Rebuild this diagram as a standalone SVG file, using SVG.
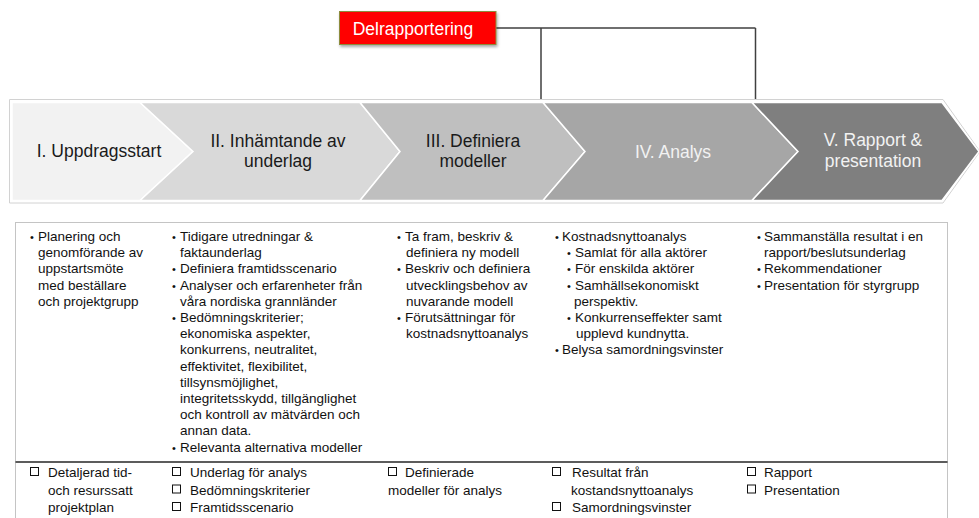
<svg xmlns="http://www.w3.org/2000/svg" width="979" height="518" viewBox="0 0 979 518">
  <defs>
    <style>
      text { font-family: "Liberation Sans", Arial, sans-serif; }
      .ph { font-size: 17.5px; text-anchor: middle; }
      .dark { fill: #1a1a1a; }
      .light { fill: #f2f2f2; }
      .chev { stroke: #ffffff; stroke-width: 1.5; }
      .b { font-size: 13.5px; fill: #111111; }
      .dot { font-size: 11px; fill: #111111; }
      .conn { stroke: #404040; stroke-width: 1.5; fill: none; }
      .chk { fill: none; stroke: #111111; stroke-width: 1; }
    </style>
    <filter id="shadow" x="-10%" y="-20%" width="120%" height="160%">
      <feDropShadow dx="1" dy="2" stdDeviation="1.5" flood-color="#000000" flood-opacity="0.35"/>
    </filter>
    <rect id="box" width="8" height="8" class="chk"/>
  </defs>

  <rect width="979" height="518" fill="#ffffff"/>

  <!-- Connectors -->
  <g id="connectors">
    <path class="conn" d="M496,28 H755.5 M541,28 V101 M755.5,28 V101"/>
  </g>

  <!-- Delrapportering -->
  <g id="node-delrapportering">
    <rect x="339.5" y="11.5" width="156.5" height="33" fill="#ff0000" stroke="#8c8c3c" stroke-width="1" filter="url(#shadow)"/>
    <text x="413" y="35" font-size="17.5" fill="#ffffff" text-anchor="middle">Delrapportering</text>
  </g>

  <!-- Phase band frame -->
  <g id="phase-band">
    <polygon points="9.5,99.5 943,99.5 980,151.5 943,203 9.5,203" fill="#ffffff" stroke="#d2d2d2" stroke-width="1"/>
  </g>

  <g id="phase-1">
    <polygon class="chev" fill="#f2f2f2" points="12,102.5 140,102.5 193,151.5 140,200.5 12,200.5"/>
    <text class="ph dark" x="99" y="157">I. Uppdragsstart</text>
  </g>
  <g id="phase-2">
    <polygon class="chev" fill="#d9d9d9" points="140,102.5 360,102.5 400,151.5 360,200.5 140,200.5 193,151.5"/>
    <text class="ph dark" x="278" y="147">II. Inhämtande av</text>
    <text class="ph dark" x="278" y="167">underlag</text>
  </g>
  <g id="phase-3">
    <polygon class="chev" fill="#bfbfbf" points="360,102.5 543,102.5 585,151.5 543,200.5 360,200.5 400,151.5"/>
    <text class="ph dark" x="473" y="147">III. Definiera</text>
    <text class="ph dark" x="473" y="167">modeller</text>
  </g>
  <g id="phase-4">
    <polygon class="chev" fill="#a6a6a6" points="543,102.5 752,102.5 798,151.5 752,200.5 543,200.5 585,151.5"/>
    <text class="ph light" x="673" y="158">IV. Analys</text>
  </g>
  <g id="phase-5">
    <polygon class="chev" fill="#7f7f7f" points="752,102.5 942,102.5 979,151.5 942,200.5 752,200.5 798,151.5"/>
    <text class="ph light" x="873" y="146">V. Rapport &amp;</text>
    <text class="ph light" x="873" y="167">presentation</text>
  </g>

  <!-- Content box -->
  <g id="content-box">
    <rect x="15.5" y="222.5" width="932" height="310" fill="#ffffff" stroke="#c4c4c4" stroke-width="1"/>
    <line x1="15.5" y1="462" x2="947.5" y2="462" stroke="#262626" stroke-width="1.5"/>
  </g>

  <!-- Column 1 activities -->
  <g id="activities-1">
    <text class="dot" x="30" y="241">•</text>
    <text class="b" x="38" y="241">Planering och</text>
    <text class="b" x="38" y="257.2">genomförande av</text>
    <text class="b" x="38" y="273.4">uppstartsmöte</text>
    <text class="b" x="38" y="289.6">med beställare</text>
    <text class="b" x="38" y="305.8">och projektgrupp</text>
  </g>

  <!-- Column 2 activities -->
  <g id="activities-2">
    <text class="dot" x="172" y="241">•</text>
    <text class="b" x="180" y="241">Tidigare utredningar &amp;</text>
    <text class="b" x="180" y="257.2">faktaunderlag</text>
    <text class="dot" x="172" y="273.4">•</text>
    <text class="b" x="180" y="273.4">Definiera framtidsscenario</text>
    <text class="dot" x="172" y="289.6">•</text>
    <text class="b" x="180" y="289.6">Analyser och erfarenheter från</text>
    <text class="b" x="180" y="305.8">våra nordiska grannländer</text>
    <text class="dot" x="172" y="322">•</text>
    <text class="b" x="180" y="322">Bedömningskriterier;</text>
    <text class="b" x="180" y="338.2">ekonomiska aspekter,</text>
    <text class="b" x="180" y="354.4">konkurrens, neutralitet,</text>
    <text class="b" x="180" y="370.6">effektivitet, flexibilitet,</text>
    <text class="b" x="180" y="386.8">tillsynsmöjlighet,</text>
    <text class="b" x="180" y="403">integritetsskydd, tillgänglighet</text>
    <text class="b" x="180" y="419.2">och kontroll av mätvärden och</text>
    <text class="b" x="180" y="435.4">annan data.</text>
    <text class="dot" x="172" y="451.6">•</text>
    <text class="b" x="180" y="451.6">Relevanta alternativa modeller</text>
  </g>

  <!-- Column 3 activities -->
  <g id="activities-3">
    <text class="dot" x="397" y="241">•</text>
    <text class="b" x="405" y="241">Ta fram, beskriv &amp;</text>
    <text class="b" x="406" y="257.2">definiera ny modell</text>
    <text class="dot" x="397" y="273.4">•</text>
    <text class="b" x="405" y="273.4">Beskriv och definiera</text>
    <text class="b" x="406" y="289.6">utvecklingsbehov av</text>
    <text class="b" x="406" y="305.8">nuvarande modell</text>
    <text class="dot" x="397" y="322">•</text>
    <text class="b" x="405" y="322">Förutsättningar för</text>
    <text class="b" x="406" y="338.2">kostnadsnyttoanalys</text>
  </g>

  <!-- Column 4 activities -->
  <g id="activities-4">
    <text class="dot" x="555" y="241">•</text>
    <text class="b" x="562" y="241">Kostnadsnyttoanalys</text>
    <text class="dot" x="567" y="257.2">•</text>
    <text class="b" x="575" y="257.2">Samlat för alla aktörer</text>
    <text class="dot" x="567" y="273.4">•</text>
    <text class="b" x="575" y="273.4">För enskilda aktörer</text>
    <text class="dot" x="567" y="289.6">•</text>
    <text class="b" x="575" y="289.6">Samhällsekonomiskt</text>
    <text class="b" x="574" y="305.8">perspektiv.</text>
    <text class="dot" x="567" y="322">•</text>
    <text class="b" x="575" y="322">Konkurrenseffekter samt</text>
    <text class="b" x="576" y="338.2">upplevd kundnytta.</text>
    <text class="dot" x="555" y="354.4">•</text>
    <text class="b" x="562" y="354.4">Belysa samordningsvinster</text>
  </g>

  <!-- Column 5 activities -->
  <g id="activities-5">
    <text class="dot" x="757" y="241">•</text>
    <text class="b" x="764" y="241">Sammanställa resultat i en</text>
    <text class="b" x="764" y="257.2">rapport/beslutsunderlag</text>
    <text class="dot" x="757" y="273.4">•</text>
    <text class="b" x="764" y="273.4">Rekommendationer</text>
    <text class="dot" x="757" y="289.6">•</text>
    <text class="b" x="764" y="289.6">Presentation för styrgrupp</text>
  </g>

  <!-- Deliverables -->
  <g id="deliverables-1">
    <use href="#box" x="30.5" y="467.5"/>
    <text class="b" x="48" y="477">Detaljerad tid-</text>
    <text class="b" x="48" y="494.5">och resurssatt</text>
    <text class="b" x="48" y="512">projektplan</text>
  </g>
  <g id="deliverables-2">
    <use href="#box" x="172.5" y="467.5"/>
    <text class="b" x="190" y="477">Underlag för analys</text>
    <use href="#box" x="172.5" y="485"/>
    <text class="b" x="190" y="494.5">Bedömningskriterier</text>
    <use href="#box" x="172.5" y="502.5"/>
    <text class="b" x="190" y="512">Framtidsscenario</text>
  </g>
  <g id="deliverables-3">
    <use href="#box" x="388.5" y="467.5"/>
    <text class="b" x="405" y="477">Definierade</text>
    <text class="b" x="388" y="494.5">modeller för analys</text>
  </g>
  <g id="deliverables-4">
    <use href="#box" x="552.5" y="467.5"/>
    <text class="b" x="572" y="477">Resultat från</text>
    <text class="b" x="571" y="494.5">kostandsnyttoanalys</text>
    <use href="#box" x="552.5" y="502.5"/>
    <text class="b" x="572" y="512">Samordningsvinster</text>
  </g>
  <g id="deliverables-5">
    <use href="#box" x="747.5" y="467.5"/>
    <text class="b" x="764" y="477">Rapport</text>
    <use href="#box" x="747.5" y="485"/>
    <text class="b" x="764" y="494.5">Presentation</text>
  </g>
</svg>
